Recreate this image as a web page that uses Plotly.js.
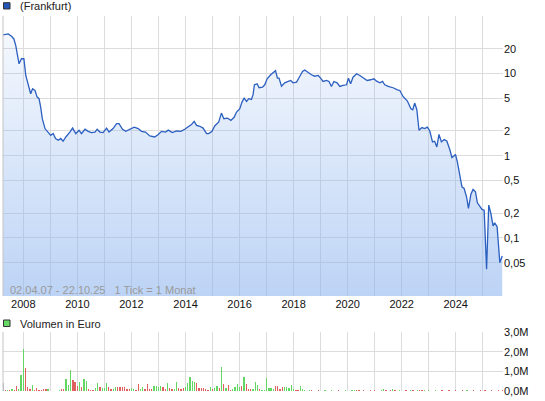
<!DOCTYPE html>
<html>
<head>
<meta charset="utf-8">
<script src="https://cdn.plot.ly/plotly-3.0.1.min.js"></script>
<style>
  html, body { margin: 0; padding: 0; background: #fff; }
  #chart { width: 545px; height: 401px; }
</style>
</head>
<body>
<div id="chart"></div>
<script>
// ---- Price (Frankfurt), decimal years and values (EUR, log scale) ----
const priceYears = [
  2007.23,2007.44,2007.56,2007.65,2007.72,2007.77,2007.84,2007.93,2008.02,2008.09,
  2008.18,2008.27,2008.34,2008.43,2008.51,2008.58,2008.64,2008.70,2008.80,2008.92,
  2009.01,2009.10,2009.19,2009.29,2009.38,2009.47,2009.57,2009.72,2009.82,2009.94,
  2010.06,2010.15,2010.28,2010.40,2010.52,2010.65,2010.73,2010.83,2010.95,2011.08,
  2011.17,2011.32,2011.45,2011.54,2011.67,2011.79,2011.91,
  2012.10,2012.25,2012.37,2012.52,2012.68,2012.86,2012.99,2013.11,2013.26,2013.36,
  2013.51,2013.67,2013.83,2013.97,2014.12,2014.22,2014.32,2014.41,2014.53,2014.65,
  2014.78,2014.86,2014.98,2015.08,2015.23,2015.33,2015.42,2015.55,2015.68,2015.80,
  2015.89,2016.01,2016.09,2016.17,2016.26,2016.34,2016.44,2016.50,2016.55,
  2016.65,2016.72,2016.85,2016.93,2017.02,2017.15,2017.24,2017.33,2017.40,2017.46,
  2017.55,2017.67,2017.80,2017.89,2017.98,2018.11,2018.23,2018.33,2018.41,2018.54,
  2018.66,2018.78,2018.91,2019.00,2019.09,2019.22,2019.31,2019.40,2019.49,2019.61,
  2019.71,2019.83,2019.96,2020.03,2020.11,2020.20,2020.33,2020.45,2020.60,2020.72,
  2020.85,2020.97,2021.07,2021.19,2021.29,2021.37,
  2021.50,2021.68,2021.84,2021.93,2022.05,2022.21,2022.34,2022.41,2022.48,2022.56,
  2022.64,2022.75,2022.85,2022.95,2023.04,2023.14,2023.22,2023.30,2023.38,2023.47,
  2023.57,2023.67,2023.78,2023.86,2023.94,2023.99,2024.06,2024.15,2024.23,2024.31,
  2024.40,2024.47,2024.56,2024.64,2024.73,2024.80,2024.89,2024.97,2025.05,2025.14,
  2025.22,2025.30,2025.38,2025.44,2025.53,2025.63,2025.72
];
const priceValues = [
  29.4,30.3,28.3,26.3,21.8,17.5,13.1,15.1,15.1,9.46,
  7.15,5.67,6.52,6.22,5.16,4.94,3.90,2.82,2.14,1.94,
  1.77,1.86,1.62,1.54,1.62,1.50,1.69,1.94,2.17,1.86,
  2.04,1.86,2.10,1.98,1.91,1.94,2.10,1.94,1.91,2.17,
  1.94,2.14,2.46,2.46,2.10,1.98,2.08,
  2.23,2.14,1.98,1.94,1.74,1.69,1.81,1.98,1.94,2.05,
  1.91,2.00,1.98,2.10,2.30,2.39,2.62,2.34,2.28,2.17,
  1.86,1.86,1.98,2.30,2.57,3.30,2.82,2.87,2.69,2.93,
  3.40,3.73,4.49,5.02,4.58,4.94,4.84,5.52,7.29,
  7.50,6.71,6.82,7.29,8.62,9.64,10.2,10.8,8.77,8.77,
  7.01,7.71,8.00,8.23,7.71,7.84,9.27,10.6,11.0,10.2,
  9.64,9.27,9.46,8.77,8.00,8.23,8.00,6.96,8.00,7.71,
  6.96,7.15,7.29,8.77,7.50,9.02,9.92,9.46,8.77,8.23,
  8.39,8.62,8.07,7.71,8.00,7.29,
  6.96,6.71,6.34,6.22,5.26,4.62,3.73,3.63,4.37,3.63,
  2.04,2.20,2.14,2.23,2.00,1.47,1.50,1.28,1.82,1.47,
  1.57,1.51,1.19,0.951,1.00,1.04,0.841,0.580,0.418,0.400,
  0.317,0.229,0.341,0.389,0.364,0.268,0.244,0.223,0.218,0.0418,
  0.251,0.199,0.140,0.153,0.137,0.0502,0.0605
];

// ---- Monthly volume (million EUR) from 2007-04 to 2025-10 ----
const volumeStart = [2007, 4];
const volumeValues = [
  0.39,0.05,0.05,0.05,0.10,0.03,0.26,0.10,0.82,2.14,
  1.16,0.19,0.09,0.29,0.05,0.15,0.05,0.05,0.10,0.10,
  0.10,0.02,0.02,0.02,0.02,0.05,0.09,0.12,0.62,0.31,
  1.08,0.56,0.48,0.26,0.48,0.22,0.62,0.51,0.09,0.05,
  0.05,0.14,0.39,0.22,0.15,0.15,0.39,0.22,0.09,0.12,
  0.22,0.19,0.22,0.19,0.19,0.10,0.10,0.17,0.12,0.05,
  0.36,0.09,0.19,0.09,0.36,0.09,0.09,0.26,0.26,0.22,
  0.26,0.19,0.09,0.43,0.14,0.10,0.10,0.46,0.14,0.12,
  0.15,0.19,0.39,0.70,0.51,0.46,0.43,0.15,0.15,0.15,
  0.09,0.05,0.19,0.10,0.17,0.26,0.14,1.21,0.36,0.14,
  0.29,0.05,0.09,0.22,0.36,0.19,0.26,0.70,0.36,0.12,
  0.09,0.12,0.46,0.29,0.09,0.05,0.05,0.67,0.15,0.15,
  0.09,0.26,0.26,0.12,0.19,0.22,0.19,0.17,0.31,0.09,
  0.05,0.05,0.26,0.09,0.03,0.02,0.03,0.05,0.02,0.02,
  0.03,0.02,0.02,0.03,0.02,0.02,0.03,0.02,0.02,0.03,
  0.02,0.02,0.03,0.02,0.02,0.03,0.04,0.06,0.03,0.02,
  0.03,0.02,0.02,0.03,0.02,0.03,0.02,0.02,0.03,0.12,
  0.03,0.02,0.04,0.12,0.03,0.02,0.03,0.02,0.02,0.03,
  0.02,0.03,0.06,0.02,0.03,0.06,0.03,0.05,0.02,0.03,
  0.02,0.02,0.03,0.02,0.02,0.03,0.02,0.02,0.03,0.02,
  0.02,0.03,0.02,0.02,0.03,0.02,0.03,0.02,0.02,0.03,
  0.02,0.02,0.03,0.02,0.03,0.02,0.02,0.03,0.02,0.02,
  0.03,0.02,0.03
];
// n = neutral (first month), g = up month, r = down month
const volumeDirection =
  "nrgrgrrggg" + "rrrgrrrrrr" + "ggrgrgrrgg" + "grrrgrggrr" +
  "rggrgggrrg" + "grrrrrrggr" + "rggrrrrggg" + "grrgrrggrr" +
  "rggggg" + "rrrr" + "rrgrggrgrg" + "rrggggrgrr" + "rgggrggggg" +
  "grrrrggggg" + "rrgggrgrrg" + "rgrgrrgrgr" + "gggrrggrrg" +
  "rgrrgrgrgg" + "rrrgrrgrgr" + "rgrrgrrgrg" + "grgrgrrgrr" +
  "grrgrggrrr";
const volumeTickValues = [0, 1, 2, 3];
const volumeTickText = ["0,0M", "1,0M", "2,0M", "3,0M"];

const priceTickValues = [0.05, 0.1, 0.2, 0.5, 1, 2, 5, 10, 20, 50];
const priceTickText = ["0,05", "0,1", "0,2", "0,5", "1", "2", "5", "10", "20", ""];

const seriesName = "(Frankfurt)";
const volumeName = "Volumen in Euro";
const infoText = "02.04.07 - 22.10.25\u00a0\u00a0\u00a01 Tick = 1 Monat";

// ---- helpers ----
function decYearToDate(y) {
  const yr = Math.floor(y);
  const a = Date.UTC(yr, 0, 1), b = Date.UTC(yr + 1, 0, 1);
  return new Date(a + (y - yr) * (b - a)).toISOString().slice(0, 19).replace('T', ' ');
}
const priceDates = priceYears.map(decYearToDate);
const volumeDates = volumeValues.map((_, i) => {
  const d = new Date(Date.UTC(volumeStart[0], volumeStart[1] - 1 + i, 1));
  return d.toISOString().slice(0, 10);
});
const dirColor = { g: '#62d862', r: '#e05f5f', n: '#b4b4b4' };
const volumeColors = volumeValues.map((_, i) => dirColor[volumeDirection[i] || 'r']);

const GRID = '#dcdcdc';
const FONT = '"Liberation Sans", Arial, sans-serif';

const priceTrace = {
  type: 'scatter', mode: 'lines',
  x: priceDates, y: priceValues,
  xaxis: 'x', yaxis: 'y',
  line: { color: '#2b5fc0', width: 1.3 },
  fill: 'tozeroy',
  fillgradient: {
    type: 'vertical',
    start: 0.0197, stop: 50,
    colorscale: [[0, 'rgba(141,180,239,0.58)'], [1, 'rgba(141,180,239,0.06)']]
  },
  hoverinfo: 'skip'
};
const volumeTrace = {
  type: 'bar',
  x: volumeDates, y: volumeValues,
  xaxis: 'x2', yaxis: 'y2',
  width: 1.5e9,
  marker: { color: volumeColors, line: { width: 0 } },
  hoverinfo: 'skip'
};

const plotBottomMain = 0.2533;
const volTop = 0.1573;

const layout = {
  width: 545, height: 401,
  margin: { l: 3, r: 42, t: 16, b: 10 },
  paper_bgcolor: '#ffffff', plot_bgcolor: '#ffffff',
  showlegend: false,
  font: { family: FONT, size: 11, color: '#222' },
  bargap: 0,
  xaxis: {
    type: 'date', anchor: 'y', domain: [0, 1],
    range: ['2007-04-01', '2025-10-01'],
    tick0: '2008-01-01', dtick: 'M24', tickformat: '%Y',
    ticks: '', showgrid: true, gridcolor: GRID, gridwidth: 1,
    minor: { dtick: 'M12', tick0: '2008-01-01', showgrid: true, gridcolor: GRID, gridwidth: 1 },
    zeroline: false, showline: false,
    tickfont: { family: FONT, size: 11, color: '#111' }
  },
  yaxis: {
    type: 'log', anchor: 'x', domain: [plotBottomMain, 1], side: 'right',
    range: [Math.log10(0.0197), Math.log10(50)],
    tickmode: 'array', tickvals: priceTickValues, ticktext: priceTickText,
    ticks: '', showgrid: true, gridcolor: GRID, gridwidth: 1,
    zeroline: false, showline: false,
    tickfont: { family: FONT, size: 11, color: '#111' }
  },
  xaxis2: {
    type: 'date', anchor: 'y2', matches: 'x', domain: [0, 1],
    showticklabels: false, ticks: '',
    tick0: '2008-01-01', dtick: 'M24',
    showgrid: true, gridcolor: GRID, gridwidth: 1,
    minor: { dtick: 'M12', tick0: '2008-01-01', showgrid: true, gridcolor: GRID, gridwidth: 1 },
    zeroline: false, showline: false
  },
  yaxis2: {
    anchor: 'x2', domain: [0, volTop], side: 'right',
    range: [0, 3],
    tickmode: 'array', tickvals: volumeTickValues, ticktext: volumeTickText,
    ticks: '', showgrid: true, gridcolor: GRID, gridwidth: 1,
    zeroline: false, showline: false,
    tickfont: { family: FONT, size: 11, color: '#111' }
  },
  shapes: [
    { type: 'line', xref: 'paper', yref: 'paper', x0: 0, x1: 0, y0: plotBottomMain, y1: 1,
      line: { color: '#c4c4c4', width: 1 } },
    { type: 'line', xref: 'paper', yref: 'paper', x0: 0, x1: 0, y0: 0, y1: volTop,
      line: { color: '#c4c4c4', width: 1 } },
    { type: 'rect', xref: 'paper', yref: 'paper', x0: 0.001, x1: 0.014, y0: 1.0187, y1: 1.0355,
      fillcolor: '#2255b8', line: { color: '#333', width: 1 } },
    { type: 'rect', xref: 'paper', yref: 'paper', x0: 0.001, x1: 0.014, y0: 0.172, y1: 0.1893,
      fillcolor: '#66d866', line: { color: '#333', width: 1 } }
  ],
  annotations: [
    { text: seriesName, xref: 'paper', yref: 'paper', x: 0.03, y: 1.0267,
      xanchor: 'left', yanchor: 'middle', showarrow: false,
      font: { family: FONT, size: 11, color: '#222' } },
    { text: volumeName, xref: 'paper', yref: 'paper', x: 0.03, y: 0.18,
      xanchor: 'left', yanchor: 'middle', showarrow: false,
      font: { family: FONT, size: 11, color: '#222' } },
    { text: infoText, xref: 'paper', yref: 'paper', x: 0.01, y: 0.2693,
      xanchor: 'left', yanchor: 'middle', showarrow: false,
      font: { family: FONT, size: 11, color: '#9a9a9a' } }
  ]
};

Plotly.newPlot('chart', [priceTrace, volumeTrace], layout, { staticPlot: true, displayModeBar: false });
</script>
</body>
</html>
